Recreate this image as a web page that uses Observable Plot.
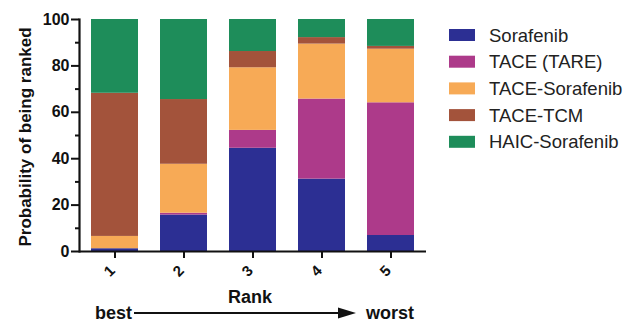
<!DOCTYPE html>
<html>
<head>
<meta charset="utf-8">
<script src="https://cdn.jsdelivr.net/npm/d3@7"></script>
<script src="https://cdn.jsdelivr.net/npm/@observablehq/plot@0.6"></script>
<style>
  body { margin: 0; background: #fff; }
  svg { font-family: "Liberation Sans", Arial, sans-serif; }
</style>
</head>
<body>
<div id="chart"></div>
<script>
const ranks = ["1", "2", "3", "4", "5"];
const treatments = ["Sorafenib", "TACE (TARE)", "TACE-Sorafenib", "TACE-TCM", "HAIC-Sorafenib"];
const colors = ["#2c2f93", "#ad3a8a", "#f7aa56", "#a3533b", "#1e8d5a"];
// probability (%) per rank, for each treatment
const sorafenib     = [1.2, 15.7, 44.5, 31.2, 6.9];
const taceTare      = [0.0, 0.8, 7.7, 34.5, 57.2];
const taceSorafenib = [5.3, 21.1, 27.0, 23.7, 23.1];
const taceTcm       = [61.7, 27.9, 7.0, 2.8, 1.2];
const haicSorafenib = [31.8, 34.5, 13.8, 7.8, 11.6];
const yTicks = [0, 20, 40, 60, 80, 100];
const yMinorTicks = [10, 30, 50, 70, 90];

const series = [sorafenib, taceTare, taceSorafenib, taceTcm, haicSorafenib];
const rows = [];
treatments.forEach((t, i) => ranks.forEach((r, j) => rows.push({rank: r, treatment: t, value: series[i][j]})));

const W = 642, H = 324;
const mL = 79, mT = 19, mB = 73, mR = 216;

const plot = Plot.plot({
  width: W,
  height: H,
  marginLeft: mL,
  marginTop: mT,
  marginBottom: mB,
  marginRight: mR,
  style: {fontFamily: "Liberation Sans, Arial, sans-serif", background: "#fff", color: "#111"},
  x: {domain: ranks, paddingInner: 0.32, paddingOuter: 0.16, label: null},
  y: {domain: [0, 100], label: null},
  color: {domain: treatments, range: colors},
  marks: [
    Plot.barY(rows, {x: "rank", y: "value", fill: "treatment", order: treatments}),
    Plot.axisY({ticks: yTicks, tickSize: 8, strokeWidth: 2, tickFormat: () => "", label: null}),
    Plot.axisY({ticks: yMinorTicks, tickSize: 4, strokeWidth: 2, tickFormat: () => "", label: null}),
    Plot.axisX({tickSize: 7, strokeWidth: 2, tickFormat: () => "", label: null}),
    Plot.text(yTicks, {y: d => d, text: d => String(d), frameAnchor: "left", dx: -10, textAnchor: "end",
      fontSize: 16, fontWeight: "bold", fill: "#111", fontFamily: "Liberation Sans, Arial, sans-serif"}),
    Plot.text(ranks, {x: d => d, text: d => d, frameAnchor: "bottom", dy: 23, dx: -2, rotate: -45,
      fontSize: 15, fontWeight: "bold", fill: "#111", fontFamily: "Liberation Sans, Arial, sans-serif"}),
    Plot.ruleY([0], {strokeWidth: 2.2, stroke: "#111"}),
    Plot.frame({anchor: "left", strokeWidth: 2.2, stroke: "#111"})
  ]
});

document.getElementById("chart").appendChild(plot);
const svg = d3.select(plot);

const ann = svg.append("g").attr("text-anchor", "start").attr("fill", "#111");

// y-axis title
ann.append("text")
  .attr("transform", `translate(31,137) rotate(-90)`)
  .attr("text-anchor", "middle")
  .attr("font-size", 17).attr("font-weight", "bold")
  .text("Probability of being ranked");

// x-axis title
ann.append("text")
  .attr("x", 250).attr("y", 303)
  .attr("text-anchor", "middle")
  .attr("font-size", 18).attr("font-weight", "bold")
  .text("Rank");

ann.append("text")
  .attr("x", 95).attr("y", 319).attr("text-anchor", "start")
  .attr("font-size", 18).attr("font-weight", "bold")
  .text("best");
ann.append("text")
  .attr("x", 366).attr("y", 319).attr("text-anchor", "start")
  .attr("font-size", 18).attr("font-weight", "bold")
  .text("worst");
ann.append("line")
  .attr("x1", 134).attr("x2", 340).attr("y1", 313).attr("y2", 313)
  .attr("stroke", "#111").attr("stroke-width", 2.2);
ann.append("path")
  .attr("d", "M338,307.5 L356,313 L338,318.5 Z")
  .attr("fill", "#111");

// legend
const lg = svg.append("g").attr("text-anchor", "start");
treatments.forEach((t, i) => {
  const y = 35 + i * 26.7;
  lg.append("rect").attr("x", 449).attr("y", y - 6).attr("width", 26).attr("height", 12).attr("fill", colors[i]);
  lg.append("text").attr("x", 489).attr("y", y + 6.5).attr("text-anchor", "start")
    .attr("font-size", 18.5).attr("fill", "#222").text(t);
});
</script>
</body>
</html>
